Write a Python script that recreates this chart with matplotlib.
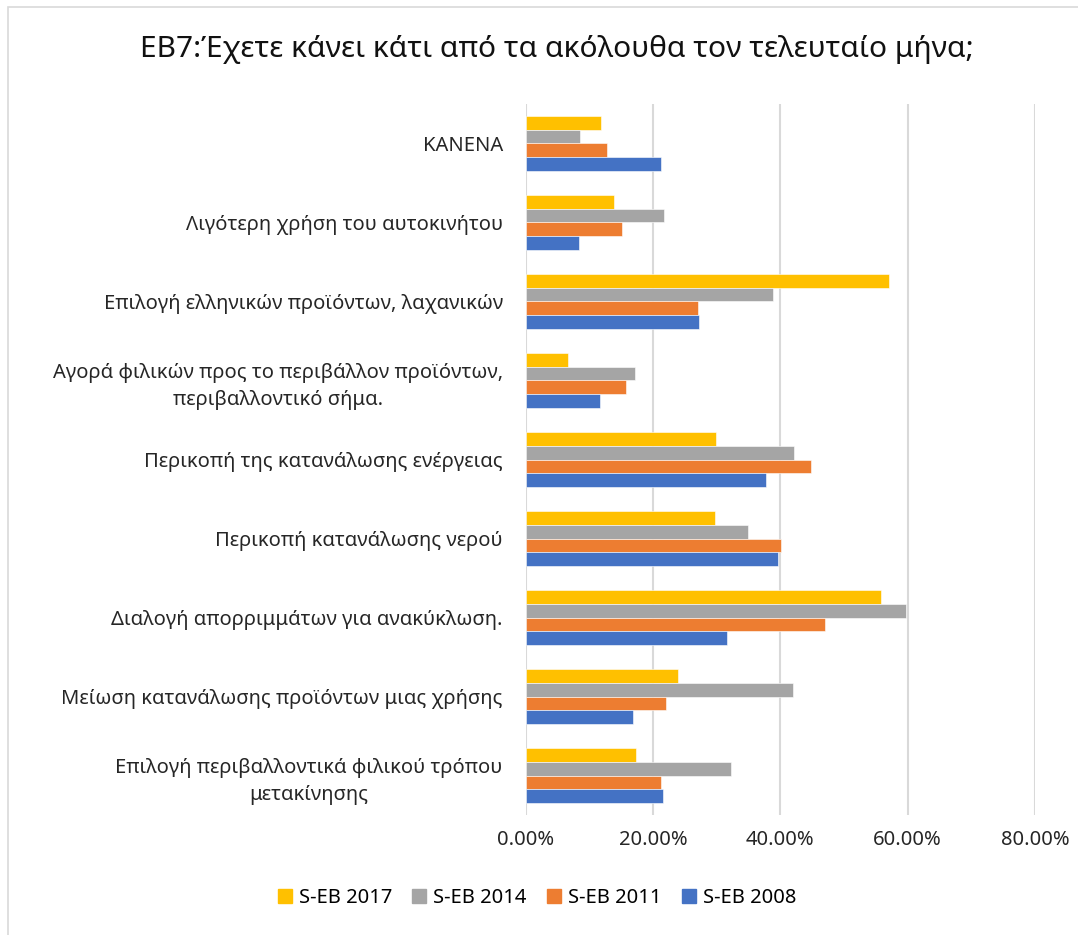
import matplotlib.pyplot as plt
import matplotlib.patches as mpatches
import numpy as np

plt.rcParams['font.family'] = ['Noto Sans', 'DejaVu Sans']

categories = [
    'ΚΑΝΕΝΑ',
    'Λιγότερη χρήση του αυτοκινήτου',
    'Επιλογή ελληνικών προϊόντων, λαχανικών',
    'Αγορά φιλικών προς το περιβάλλον προϊόντων,\nπεριβαλλοντικό σήμα.',
    'Περικοπή της κατανάλωσης ενέργειας',
    'Περικοπή κατανάλωσης νερού',
    'Διαλογή απορριμμάτων για ανακύκλωση.',
    'Μείωση κατανάλωσης προϊόντων μιας χρήσης',
    'Επιλογή περιβαλλοντικά φιλικού τρόπου\nμετακίνησης',
]

seb_2017 = [11.8, 13.8, 57.1, 6.7, 29.9, 29.8, 55.8, 24.0, 17.4]
seb_2014 = [8.5, 21.7, 38.8, 17.1, 42.2, 35.0, 59.8, 42.0, 32.3]
seb_2011 = [12.8, 15.2, 27.0, 15.7, 44.8, 40.1, 47.0, 22.0, 21.2]
seb_2008 = [21.3, 8.3, 27.3, 11.7, 37.8, 39.7, 31.7, 16.9, 21.5]

series = [
    ('S-EB 2017', seb_2017, '#FFC000'),
    ('S-EB 2014', seb_2014, '#A5A5A5'),
    ('S-EB 2011', seb_2011, '#ED7D31'),
    ('S-EB 2008', seb_2008, '#4472C4'),
]

fig = plt.figure(figsize=(10.78, 9.35), dpi=100)
ax = fig.add_axes([0.4877, 0.1283, 0.4723, 0.7605])

y = np.arange(len(categories))
h = 0.172
for i, (name, vals, col) in enumerate(series):
    ax.barh(y + (i - 1.5) * h, vals, height=h, color=col, label=name,
            edgecolor='white', linewidth=0.4, zorder=3)

ax.set_xlim(0, 80)
ax.set_ylim(len(categories) - 0.5, -0.5)
ax.set_xticks([0, 20, 40, 60, 80])
ax.set_xticklabels([f'{v:.2f}%' for v in [0, 20, 40, 60, 80]], fontsize=14.5, color='#262626')
ax.set_yticks(y)
ax.set_yticklabels(categories, fontsize=14.5, color='#262626', multialignment='center',
                   linespacing=1.45)
ax.tick_params(axis='both', length=0)
ax.tick_params(axis='y', pad=16.5)
ax.tick_params(axis='x', pad=11)
ax.grid(axis='x', color='#D9D9D9', linewidth=1.5, zorder=0)
for s in ax.spines.values():
    s.set_visible(False)

fig.suptitle('ΕΒ7:Έχετε κάνει κάτι από τα ακόλουθα τον τελευταίο μήνα;',
             x=0.517, y=1 - 50 / 935, va='center', fontsize=21.5, color='#111111')

handles = [mpatches.Patch(color=c, label=n) for n, _, c in series]
fig.legend(handles=handles, loc='center', bbox_to_anchor=(0.498, 1 - 898 / 935), ncol=4,
           frameon=False, fontsize=14.5, handlelength=0.7, handleheight=0.7,
           columnspacing=1.0, handletextpad=0.35)

# light chart border (left and top edges visible)
fig.patches.append(mpatches.Rectangle((8 / 1078, -0.1), 1.2, 1.1 - 7 / 935,
                                      transform=fig.transFigure, fill=False,
                                      edgecolor='#D9D9D9', linewidth=1.2))

fig.savefig('out.png', dpi=100)
